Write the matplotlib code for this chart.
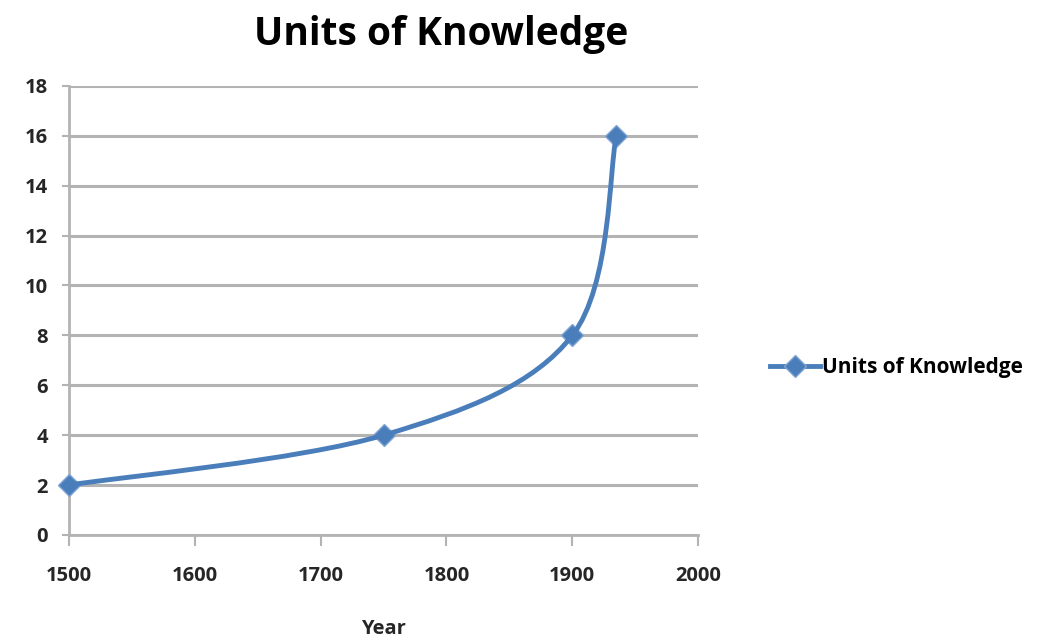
import matplotlib
matplotlib.use("Agg")
import matplotlib.pyplot as plt
import numpy as np
from matplotlib.path import Path
from matplotlib.patches import PathPatch
from matplotlib.lines import Line2D
from matplotlib.transforms import IdentityTransform

# Data
years = [1500, 1750, 1900, 1935]
knowledge = [2, 4, 8, 16]
series_name = "Units of Knowledge"

line_color = "#4a7ebb"
grid_color = "#b3b3b3"
plt.rcParams['font.family'] = ['Open Sans', 'DejaVu Sans']

fig = plt.figure(figsize=(10.4, 6.42), dpi=100)
ax = fig.add_axes([0.0663, 0.1667, 0.605, 0.6995])
ax.set_xlim(1500, 2000)
ax.set_ylim(0, 18)
ax.set_xticks(np.arange(1500, 2001, 100))
ax.set_yticks(np.arange(0, 19, 2))

# gridlines and spines like the office chart
ax.grid(axis='y', color=grid_color, linewidth=2.2)
ax.set_axisbelow(True)
for side in ['top', 'right']:
    ax.spines[side].set_visible(False)
for side in ['left', 'bottom']:
    ax.spines[side].set_color(grid_color)
    ax.spines[side].set_linewidth(2)
ax.tick_params(axis='x', length=8, width=1.5, color=grid_color, pad=14,
               labelsize=14.5)
ax.tick_params(axis='y', length=5, width=1.5, color=grid_color, pad=10,
               labelsize=14.5)
for lab in ax.get_xticklabels() + ax.get_yticklabels():
    lab.set_fontweight('bold')
    lab.set_color('#262626')

# smoothed line (bezier through the points, computed in pixel space)
fig.canvas.draw()
pts = ax.transData.transform(np.column_stack([years, knowledge]))
verts = [pts[0]]
codes = [Path.MOVETO]
n = len(pts)
for i in range(n - 1):
    p0 = pts[max(i - 1, 0)]
    p1 = pts[i]
    p2 = pts[i + 1]
    p3 = pts[min(i + 2, n - 1)]
    c1 = p1 + (p2 - p0) / 6
    c2 = p2 - (p3 - p1) / 6
    verts += [c1, c2, p2]
    codes += [Path.CURVE4] * 3
curve = PathPatch(Path(verts, codes), transform=IdentityTransform(),
                  facecolor='none', edgecolor=line_color, linewidth=3.5,
                  capstyle='round', joinstyle='round', zorder=3)
fig.add_artist(curve)
ax.plot(years, knowledge, linestyle='none', marker='D', markersize=11,
        color=line_color, markeredgecolor='#7fa3d3', markeredgewidth=1,
        zorder=4, clip_on=False)

# title and axis label
fig.text(0.424, 0.947, series_name, ha='center', va='center',
         fontsize=28, fontweight='bold', color='black')
ax.set_xlabel("Year", fontsize=14.5, fontweight='bold', color='#262626',
              labelpad=24)

# legend
handle = Line2D([0], [0], color=line_color, linewidth=3.5, marker='D',
                markersize=11, markeredgecolor='#7fa3d3')
fig.legend([handle], [series_name], loc='center left',
           bbox_to_anchor=(0.722, 0.427), frameon=False,
           handlelength=2.4, handletextpad=0.1,
           prop={'weight': 'bold', 'size': 15})

fig.savefig("out.png", dpi=100, facecolor='white')
